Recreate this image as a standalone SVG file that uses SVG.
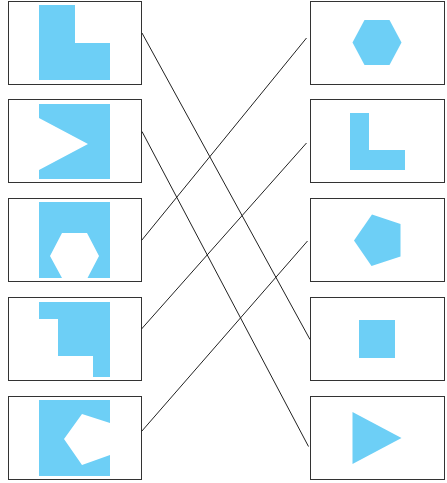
<svg xmlns="http://www.w3.org/2000/svg" width="447" height="483" viewBox="0 0 447 483">
<style>
.box{fill:#fff;stroke:#333;stroke-width:1}
.shape{fill:#6dcff6;stroke:none}
.conn{stroke:#222;stroke-width:1;fill:none}
</style>
<rect width="447" height="483" fill="#fff"/>
<g id="left1"><rect class="box" x="8.5" y="1.5" width="133" height="83"/><polygon class="shape" points="39,5 75,5 75,43 110,43 110,80 39,80"/></g>
<g id="left2"><rect class="box" x="8.5" y="99.5" width="133" height="83"/><polygon class="shape" points="39,104 110,104 110,179 39,179 39,170 88,144 39,118"/></g>
<g id="left3"><rect class="box" x="8.5" y="198.5" width="133" height="83"/><polygon class="shape" points="39,202 110,202 110,278 87.5,278 99,256 87,233 62,233 50,256 62,278 39,278"/></g>
<g id="left4"><rect class="box" x="8.5" y="297.5" width="133" height="83"/><polygon class="shape" points="39,302 110,302 110,377 93,377 93,356 58,356 58,319 39,319"/></g>
<g id="left5"><rect class="box" x="8.5" y="396.5" width="133" height="83"/><polygon class="shape" points="39,400 110,400 110,423 82,414 64,439 82,465 110,455 110,476 39,476"/></g>
<g id="right1"><rect class="box" x="310.5" y="1.5" width="134" height="83"/><polygon class="shape" points="352.5,42.5 364.5,20 389.5,20 401.5,42.5 389.5,65 364.5,65"/></g>
<g id="right2"><rect class="box" x="310.5" y="99.5" width="134" height="83"/><polygon class="shape" points="350,113 369,113 369,150 405,150 405,170 350,170"/></g>
<g id="right3"><rect class="box" x="310.5" y="198.5" width="134" height="83"/><polygon class="shape" points="372,214.5 400.5,224 400.5,256.5 371.5,266 354,240.5"/></g>
<g id="right4"><rect class="box" x="310.5" y="297.5" width="134" height="83"/><rect class="shape" x="359" y="320" width="36" height="38"/></g>
<g id="right5"><rect class="box" x="310.5" y="396.5" width="134" height="83"/><polygon class="shape" points="352.5,412 401.5,438 352.5,464"/></g>
<g id="connectors">
<line class="conn" x1="142" y1="33" x2="310" y2="339.5"/>
<line class="conn" x1="142" y1="131.5" x2="308.5" y2="446.5"/>
<line class="conn" x1="141.5" y1="240.5" x2="306.5" y2="38"/>
<line class="conn" x1="141.5" y1="329" x2="306.5" y2="143"/>
<line class="conn" x1="141.5" y1="431.5" x2="307.5" y2="241"/>
</g>
</svg>
